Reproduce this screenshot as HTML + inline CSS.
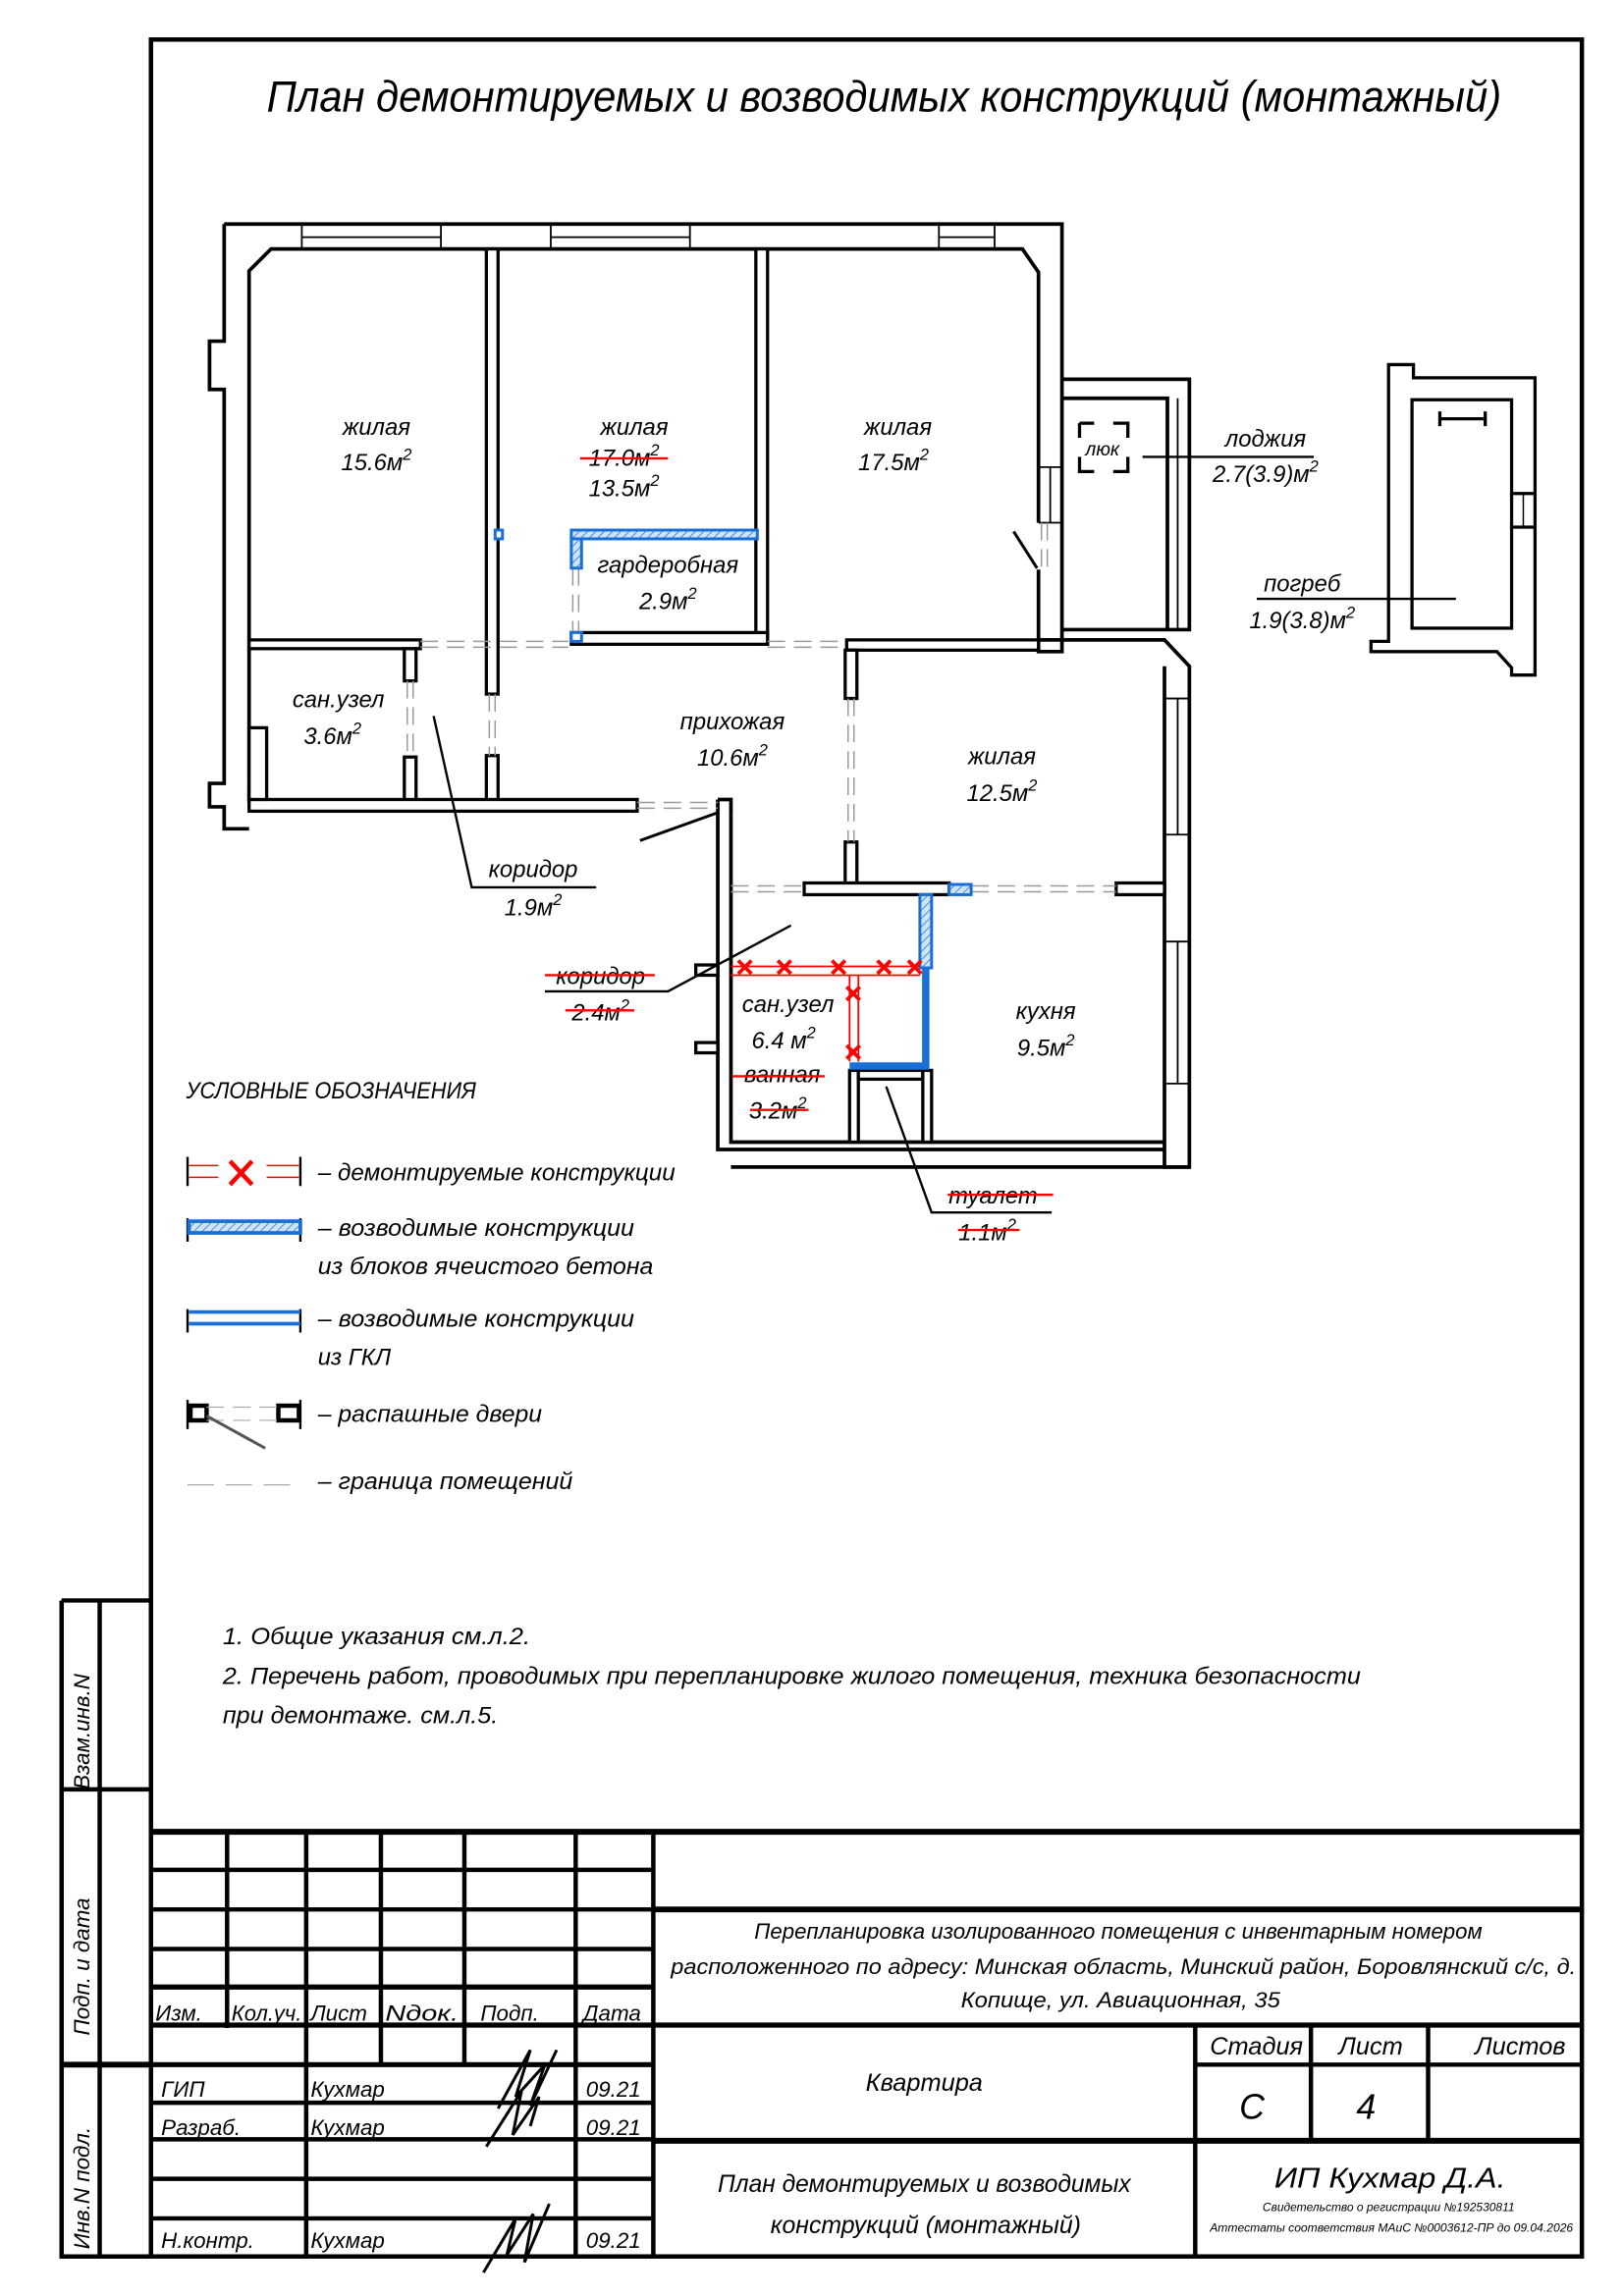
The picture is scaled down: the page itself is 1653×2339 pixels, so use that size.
<!DOCTYPE html>
<html><head><meta charset="utf-8"><style>
html,body{margin:0;padding:0;background:#fff}
svg{display:block}
text{font-family:"Liberation Sans","DejaVu Sans",sans-serif;font-style:italic;fill:#000}
</style></head><body>
<svg width="1653" height="2339" viewBox="0 0 1108 1568" xmlns="http://www.w3.org/2000/svg">
<defs>
<pattern id="h" width="4" height="4" patternUnits="userSpaceOnUse" patternTransform="rotate(45)">
<rect width="4" height="4" fill="#cfe3fa"/><line x1="0" y1="0" x2="0" y2="4" stroke="#1a6fd6" stroke-width="1"/></pattern>
</defs>
<rect width="1108" height="1568" fill="#fff"/>
<!-- frame -->
<g fill="none" stroke="#000" stroke-width="3">
<rect x="103" y="27" width="977" height="1514"/>
<path d="M42 1093 H103 M42 1093 V1541 H103 M68 1093 V1541 M42 1222 H103"/>
<path d="M42 1410 H103" stroke-width="4"/>
<!-- title block -->
<path d="M103 1251 H1080" stroke-width="4"/>
<path d="M155 1251 V1385 M209 1251 V1541 M260 1251 V1410 M317 1251 V1410 M393 1251 V1541 M446 1251 V1541"/>
<path d="M103 1277 H446 M103 1304 H446 M103 1331 H446 M103 1436 H446 M103 1461 H446 M103 1488 H446 M103 1515 H446"/>
<path d="M103 1357 H446 M103 1383 H1080 M103 1410 H446" stroke-width="3.5"/>
<path d="M446 1304 H1080 M446 1462 H1080" stroke-width="4"/>
<path d="M816 1383 V1541 M895 1383 V1462 M975 1383 V1462 M816 1410 H1080"/>
</g>
<g font-size="15">
<text transform="translate(61 1222) rotate(-90)">Взам.инв.N</text>
<text transform="translate(61 1390) rotate(-90)">Подп. и дата</text>
<text transform="translate(61 1536) rotate(-90)">Инв.N подл.</text>
<text x="106" y="1380">Изм.</text><text x="158" y="1380" textLength="48" lengthAdjust="spacingAndGlyphs">Кол.уч.</text>
<text x="212" y="1380">Лист</text><text x="263" y="1380" textLength="50" lengthAdjust="spacingAndGlyphs">Nдок.</text>
<text x="328" y="1380">Подп.</text><text x="398" y="1380">Дата</text>
<text x="110" y="1432">ГИП</text><text x="212" y="1432">Кухмар</text><text x="400" y="1432">09.21</text>
<text x="110" y="1458">Разраб.</text><text x="212" y="1458">Кухмар</text><text x="400" y="1458">09.21</text>
<text x="110" y="1535">Н.контр.</text><text x="212" y="1535">Кухмар</text><text x="400" y="1535">09.21</text>
<text x="515" y="1324" textLength="497" lengthAdjust="spacingAndGlyphs">Перепланировка изолированного помещения с инвентарным номером</text>
<text x="458" y="1348" textLength="618" lengthAdjust="spacingAndGlyphs">расположенного по адресу: Минская область, Минский район, Боровлянский с/с, д.</text>
<text x="656" y="1371" textLength="218" lengthAdjust="spacingAndGlyphs">Копище, ул. Авиационная, 35</text>
<text x="591" y="1428" font-size="17">Квартира</text>
<text x="826" y="1403" font-size="17">Стадия</text><text x="914" y="1403" font-size="17">Лист</text><text x="1007" y="1403" font-size="17">Листов</text>
<text x="846" y="1447" font-size="24">С</text><text x="926" y="1447" font-size="24">4</text>
<text x="490" y="1497" font-size="17" textLength="282" lengthAdjust="spacingAndGlyphs">План демонтируемых и возводимых</text>
<text x="526" y="1525" font-size="17" textLength="212" lengthAdjust="spacingAndGlyphs">конструкций (монтажный)</text>
<text x="870" y="1494" font-size="19" textLength="158" lengthAdjust="spacingAndGlyphs">ИП Кухмар Д.А.</text>
<text x="862" y="1510" font-size="8" textLength="172" lengthAdjust="spacingAndGlyphs">Свидетельство о регистрации №192530811</text>
<text x="826" y="1524" font-size="8" textLength="248" lengthAdjust="spacingAndGlyphs">Аттестаты соответствия МАиС №0003612-ПР до 09.04.2026</text>
</g>
<!-- signatures -->
<g fill="none" stroke="#000" stroke-width="2">
<path d="M340 1440 L362 1400 L352 1432 L372 1410 L362 1438 L380 1400 M332 1466 L356 1428 L350 1458 L368 1432 L362 1452"/>
<path d="M330 1552 L352 1515 L346 1540 L364 1512 L358 1545 L375 1505"/>
</g>
<!-- title -->
<text x="182" y="76" font-size="30" textLength="843" lengthAdjust="spacingAndGlyphs">План демонтируемых и возводимых конструкций (монтажный)</text>

<!-- floor plan walls -->
<g fill="#fff" stroke="#000" stroke-width="2.5" stroke-linejoin="miter">
<path d="M153 153 H725 V445 H709 V389 M709 357 V186 L698 170 H185 L170 185 V548 M153 153 V233 H143 V266 H153 V535 H143 V551 H153 V566 H170" fill="none"/>
<path d="M725 259 H812 V430 H797 M725 272 H797 V430 M725 430 H797" fill="none"/>
<path d="M709 437 H795 L812 455 V797 H795 V780" fill="none"/>
<path d="M795 455 V780" fill="none"/>
<path d="M490 546 V785 H499 M499 557 V780 H795 M499 785 H795 M499 797 H812" fill="none"/>
<path d="M490 546 H499 V557"/>
</g>
<g fill="#fff" stroke="#000" stroke-width="2.2">
<rect x="332" y="170" width="8" height="304"/>
<rect x="332" y="516" width="8" height="32"/>
<rect x="516" y="170" width="8" height="270"/>
<rect x="170" y="437" width="117" height="6"/>
<rect x="390" y="432" width="134" height="8"/>
<rect x="578" y="437" width="131" height="7"/>
<rect x="276" y="443" width="8" height="22"/>
<rect x="276" y="517" width="8" height="31"/>
<rect x="170" y="546" width="265" height="8"/>
<rect x="170" y="497" width="12" height="49"/>
<rect x="577" y="444" width="8" height="33"/>
<rect x="577" y="575" width="8" height="29"/>
<rect x="549" y="603" width="99" height="8"/>
<rect x="762" y="603" width="33" height="8"/>
<rect x="475" y="659" width="15" height="7"/>
<rect x="475" y="712" width="15" height="7"/>
<rect x="580" y="731" width="6" height="49"/>
<rect x="586" y="731" width="44" height="6"/>
<rect x="630" y="731" width="6" height="49"/>
</g>
<!-- windows -->
<g stroke="#000" stroke-width="1.2" fill="none">
<path d="M206 153 V170 M301 153 V170 M206 162 H301 M376 153 V170 M471 153 V170 M376 162 H471 M641 153 V170 M679 153 V170 M641 162 H679"/>
<path d="M709 319 H725 M709 357 H725 M717 319 V357"/>
<path d="M795 477 H812 M795 570 H812 M804 477 V570 M795 643 H812 M795 740 H812 M804 643 V740"/>
<path d="M797 290 V420 M804 272 V430"/>
</g>
<!-- room boundaries dashed -->
<g stroke="#999" stroke-width="1" stroke-dasharray="12 6" fill="none">
<path d="M287 438 H388 M287 442 H388 M524 438 H578 M524 442 H578"/>
<path d="M278 465 V517 M282 465 V517 M334 474 V516 M338 474 V516"/>
<path d="M391 388 V432 M395 388 V432"/>
<path d="M435 548 H490 M435 552 H490"/>
<path d="M579 477 V575 M583 477 V575"/>
<path d="M499 605 H549 M499 609 H549 M663 605 H762 M663 609 H762"/>
<path d="M711 357 V389 M715 357 V389"/>
</g>
<!-- door swings -->
<g stroke="#000" stroke-width="2"><path d="M437 574 L490 555 M692 363 L708 388"/></g>
<!-- blue constructions -->
<g stroke="#1a6fd6" stroke-width="2" fill="url(#h)">
<rect x="390" y="362" width="127" height="6"/>
<rect x="390" y="368" width="7" height="20"/>
<rect x="390" y="432" width="7" height="6" fill="#fff"/>
<rect x="338" y="362" width="5" height="6" fill="#fff"/>
<rect x="648" y="604" width="15" height="7"/>
<rect x="628" y="611" width="8" height="50"/>
</g>
<path d="M632 661 V728 H580" stroke="#1a6fd6" stroke-width="5" fill="none"/>
<!-- demolished red -->
<g stroke="#f00" stroke-width="1.2" fill="none">
<path d="M499 660 H628 M499 666 H628 M580 666 V725 M586 666 V725"/>
</g>
<g stroke="#f00" stroke-width="2.5">
<path d="M504 656 l9 9 m0 -9 l-9 9 M531 656 l9 9 m0 -9 l-9 9 M568 656 l9 9 m0 -9 l-9 9 M599 656 l9 9 m0 -9 l-9 9 M620 656 l9 9 m0 -9 l-9 9 M578 674 l9 9 m0 -9 l-9 9 M578 714 l9 9 m0 -9 l-9 9"/>
</g>
<!-- hatch / loggia / cellar -->
<g fill="none" stroke="#000" stroke-width="2.2">
<path d="M737 289 H747 M760 289 H770 V299 M770 312 V322 H760 M747 322 H737 V312 M737 299 V289" stroke-dasharray=""/>
<path d="M948 249 H965 V258 H1048 V461 H1032 V456 L1022 445 H936 V438 H948 Z"/>
<rect x="964" y="273" width="68" height="156"/>
<path d="M1032 337 H1048 M1032 360 H1048"/>
<path d="M983 286 H1014 M983 281 V291 M1014 281 V291"/>
</g>
<path d="M1040 337 V360" stroke="#000" stroke-width="1"/>
<text x="741" y="311" font-size="13">люк</text>
<!-- leaders -->
<g stroke="#000" stroke-width="1.6" fill="none">
<path d="M780 312 H897 M858 409 H994 M296 489 L322 606 H407 M437 574 L490 555 M540 632 L456 677 H372 M605 742 L636 828 H718"/>
</g>
<!-- labels -->
<g font-size="16" text-anchor="middle">
<text x="257" y="297">жилая</text><text x="257" y="321">15.6м<tspan font-size="11" dy="-7">2</tspan></text>
<text x="433" y="297">жилая</text><text x="426" y="318">17.0м<tspan font-size="11" dy="-7">2</tspan></text><text x="426" y="339">13.5м<tspan font-size="11" dy="-7">2</tspan></text>
<text x="613" y="297">жилая</text><text x="610" y="321">17.5м<tspan font-size="11" dy="-7">2</tspan></text>
<text x="456" y="391">гардеробная</text><text x="456" y="416">2.9м<tspan font-size="11" dy="-7">2</tspan></text>
<text x="231" y="483">сан.узел</text><text x="227" y="508">3.6м<tspan font-size="11" dy="-7">2</tspan></text>
<text x="500" y="498">прихожая</text><text x="500" y="523">10.6м<tspan font-size="11" dy="-7">2</tspan></text>
<text x="684" y="522">жилая</text><text x="684" y="547">12.5м<tspan font-size="11" dy="-7">2</tspan></text>
<text x="364" y="599">коридор</text><text x="364" y="625">1.9м<tspan font-size="11" dy="-7">2</tspan></text>
<text x="410" y="672">коридор</text><text x="410" y="697">2.4м<tspan font-size="11" dy="-7">2</tspan></text>
<text x="538" y="691">сан.узел</text><text x="535" y="716">6.4 м<tspan font-size="11" dy="-7">2</tspan></text>
<text x="534" y="739">ванная</text><text x="531" y="764">3.2м<tspan font-size="11" dy="-7">2</tspan></text>
<text x="714" y="696">кухня</text><text x="714" y="721">9.5м<tspan font-size="11" dy="-7">2</tspan></text>
<text x="678" y="822">туалет</text><text x="674" y="847">1.1м<tspan font-size="11" dy="-7">2</tspan></text>
<text x="864" y="305">лоджия</text><text x="864" y="329">2.7(3.9)м<tspan font-size="11" dy="-7">2</tspan></text>
<text x="889" y="404">погреб</text><text x="889" y="429">1.9(3.8)м<tspan font-size="11" dy="-7">2</tspan></text>
</g>
<g stroke="#f00" stroke-width="1.6">
<path d="M396 313 H456 M372 666 H447 M386 690 H433 M500 735 H563 M512 758 H552 M647 816 H719 M654 840 H696"/>
</g>
<!-- legend -->
<text x="127" y="750" font-size="16" textLength="198" lengthAdjust="spacingAndGlyphs">УСЛОВНЫЕ ОБОЗНАЧЕНИЯ</text>
<g stroke="#000" stroke-width="1.6" fill="none">
<path d="M128 790 V810 M205 790 V810 M128 832 V848 M205 832 V848 M128 894 V910 M205 894 V910 M128 956 V976 M205 956 V976"/>
</g>
<g stroke="#f00" stroke-width="1"><path d="M129 796 H149 M129 804 H149 M182 796 H204 M182 804 H204"/></g>
<path d="M157 793 L172 809 M172 793 L157 809" stroke="#f00" stroke-width="3"/>
<rect x="129" y="834" width="76" height="8" fill="url(#h)" stroke="#1a6fd6" stroke-width="2.5"/>
<path d="M129 896 H205 M129 904 H205" stroke="#1a6fd6" stroke-width="2.5"/>
<g stroke="#000" stroke-width="3" fill="none"><rect x="130" y="960" width="11" height="10"/><rect x="190" y="960" width="14" height="10"/></g>
<path d="M141 961 H190 M141 970 H190" stroke="#aaa" stroke-width="0.8" stroke-dasharray="12 6"/>
<path d="M141 967 L181 989" stroke="#555" stroke-width="2"/>
<path d="M128 1014 H205" stroke="#aaa" stroke-width="0.8" stroke-dasharray="18 8"/>
<g font-size="16">
<text x="217" y="806" textLength="244" lengthAdjust="spacingAndGlyphs">– демонтируемые конструкции</text>
<text x="217" y="844" textLength="216" lengthAdjust="spacingAndGlyphs">– возводимые конструкции</text>
<text x="217" y="870" textLength="229" lengthAdjust="spacingAndGlyphs">из блоков ячеистого бетона</text>
<text x="217" y="906" textLength="216" lengthAdjust="spacingAndGlyphs">– возводимые конструкции</text>
<text x="217" y="932">из ГКЛ</text>
<text x="217" y="971" textLength="153" lengthAdjust="spacingAndGlyphs">– распашные двери</text>
<text x="217" y="1017" textLength="174" lengthAdjust="spacingAndGlyphs">– граница помещений</text>
<text x="152" y="1123" textLength="210" lengthAdjust="spacingAndGlyphs">1. Общие указания см.л.2.</text>
<text x="152" y="1150" textLength="777" lengthAdjust="spacingAndGlyphs">2. Перечень работ, проводимых при перепланировке жилого помещения, техника безопасности</text>
<text x="152" y="1177" textLength="188" lengthAdjust="spacingAndGlyphs">при демонтаже. см.л.5.</text>
</g>
</svg>
</body></html>
